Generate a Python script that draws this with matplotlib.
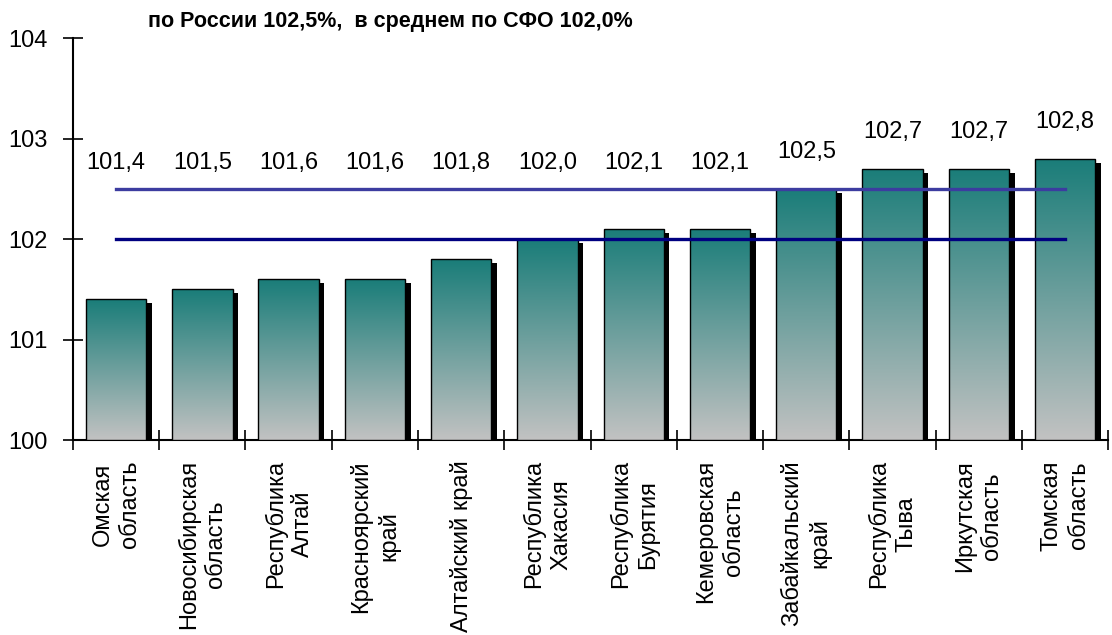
import numpy as np
import matplotlib
matplotlib.use("Agg")
import matplotlib.pyplot as plt
import matplotlib.patches as pltpatches
from matplotlib import colors
from matplotlib import font_manager

plt.rcParams["font.family"] = ["Liberation Sans", "DejaVu Sans"]

regions = [
    "Омская\nобласть",
    "Новосибирская\nобласть",
    "Республика\nАлтай",
    "Красноярский\nкрай",
    "Алтайский край",
    "Республика\nХакасия",
    "Республика\nБурятия",
    "Кемеровская\nобласть",
    "Забайкальский\nкрай",
    "Республика\nТыва",
    "Иркутская\nобласть",
    "Томская\nобласть",
]
values = [101.4, 101.5, 101.6, 101.6, 101.8, 102.0, 102.1, 102.1, 102.5, 102.7, 102.7, 102.8]
value_labels = ["101,4", "101,5", "101,6", "101,6", "101,8", "102,0",
                "102,1", "102,1", "102,5", "102,7", "102,7", "102,8"]
russia_level = 102.5
sfo_level = 102.0
title = "по России 102,5%,  в среднем по СФО 102,0%"

TOP_COLOR = "#1a7d79"
BOTTOM_COLOR = "#c2c2c2"
BAR_WIDTH = 0.7
BASE = 100

fig = plt.figure(figsize=(11.12, 6.35), dpi=100)
ax = fig.add_axes([0.0656, 0.307, 0.931, 0.633])

n = len(values)
x = np.arange(n)

# gradient image: teal at top, gray at bottom
cmap = colors.LinearSegmentedColormap.from_list("bar", [BOTTOM_COLOR, TOP_COLOR])
grad = np.linspace(0, 1, 256).reshape(-1, 1)

# pixel -> data offsets for the shadow
dx = 5.5 / (0.931 * 1112) * n
dy = 4 / (0.633 * 635) * 4

for xi, v in zip(x, values):
    left = xi - BAR_WIDTH / 2
    shadow = pltpatches.Rectangle((left + dx, BASE), BAR_WIDTH, v - BASE - dy,
                                  facecolor="black", edgecolor="none", zorder=2)
    ax.add_patch(shadow)
    im = ax.imshow(grad, cmap=cmap, aspect="auto", origin="lower",
                   extent=(left, left + BAR_WIDTH, BASE, v), zorder=3)
    rect = pltpatches.Rectangle((left, BASE), BAR_WIDTH, v - BASE,
                                facecolor="none", edgecolor="black", linewidth=1.0, zorder=4)
    ax.add_patch(rect)
    im.set_clip_path(rect)

ax.set_xlim(-0.5, n - 0.5)
ax.set_ylim(100, 104)

ax.plot([x[0], x[-1]], [russia_level, russia_level], color="#3c3ca0", linewidth=2.4, zorder=5)
ax.plot([x[0], x[-1]], [sfo_level, sfo_level], color="#000080", linewidth=2.4, zorder=5)

for xi, v, lab in zip(x, values, value_labels):
    ly = max(v + 0.37, 102.76)
    ax.text(xi, ly, lab, ha="center", va="center", fontsize=17, zorder=6)

ax.set_yticks([100, 101, 102, 103, 104])
ax.set_yticklabels(["100", "101", "102", "103", "104"], fontsize=17)
ax.set_xticks(np.arange(n + 1) - 0.5)
ax.set_xticklabels([])
ax.tick_params(axis="y", direction="inout", length=14, width=1.2, pad=11)
ax.tick_params(axis="x", direction="inout", length=14, width=1.2)

for xi, lab in zip(x, regions):
    ax.text(xi, 99.8, lab, rotation=90, ha="center", va="top",
            multialignment="center", fontsize=17, linespacing=1.3)

for side in ["top", "right"]:
    ax.spines[side].set_visible(False)
ax.spines["left"].set_linewidth(1.5)
ax.spines["bottom"].set_linewidth(1.5)

names = {f.name for f in font_manager.fontManager.ttflist}
title_family = "Liberation Sans Narrow" if "Liberation Sans Narrow" in names else "Liberation Sans"
title_size = 15.5 if title_family == "Liberation Sans" else 17
fig.text(0.133, 0.966, title, fontsize=title_size, fontweight="bold", ha="left", va="center",
         family=[title_family, "DejaVu Sans"])

fig.savefig("out.png", dpi=100)
